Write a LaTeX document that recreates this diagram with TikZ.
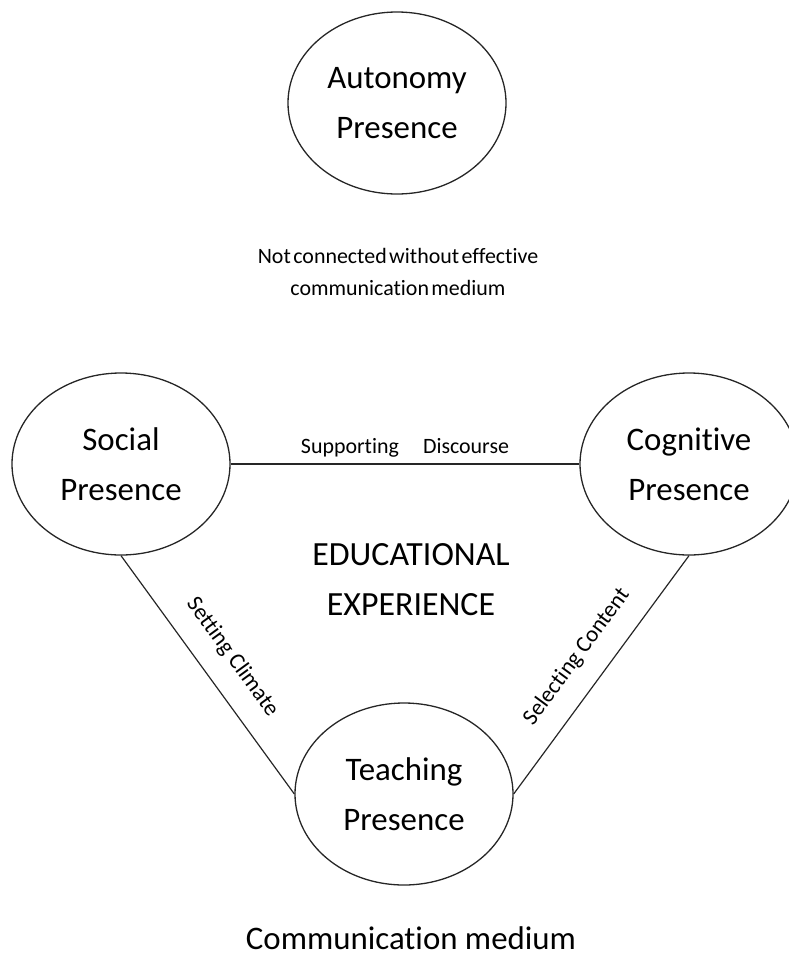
\documentclass[tikz,border=0pt]{standalone}
\usepackage{fontspec}
\setmainfont{Carlito}[Ligatures=NoCommon]
\usetikzlibrary{shapes.geometric}

\begin{document}
\begin{tikzpicture}[x=1bp,y=-1bp,
  presence/.style={ellipse,draw=black!85,line width=1.3bp,minimum width=218bp,minimum height=182bp,inner sep=0pt,align=center,font=\fontsize{33}{50}\selectfont},
  link/.style={draw=black!85,line width=1.2bp},
  linklabel/.style={midway,sloped,inner sep=0pt,font=\fontsize{23}{28}\selectfont}]
\useasboundingbox (0,0) rectangle (789,956);
\node[presence] (auto) at (397,103) {Autonomy\\Presence};
\node[presence] (soc) at (121,464) {Social\\Presence};
\node[presence] (cog) at (689,464) {Cognitive\\Presence};
\node[presence] (tea) at (404,794) {Teaching\\Presence};
\node[align=center,font=\fontsize{22}{32}\selectfont] (note) at (398,272) {\spaceskip=2.5bp\relax Not connected without effective\\\spaceskip=2.5bp\relax communication medium};
\node[align=center,font=\fontsize{34}{50}\selectfont] (edu) at (411,580) {EDUCATIONAL\\EXPERIENCE};
\node[font=\fontsize{33}{40}\selectfont] (medium) at (411,938) {Communication medium};
\draw[link] (soc) -- node[linklabel,above=6bp,font=\fontsize{22}{28}\selectfont] {Supporting\hspace{1.1em}Discourse} (cog);
\draw[link] (soc.south) -- node[linklabel,above=20bp] {Setting Climate} (tea.west);
\draw[link] (tea.east) -- node[linklabel,above=20bp] {Selecting Content} (cog.south);
\end{tikzpicture}
\end{document}
